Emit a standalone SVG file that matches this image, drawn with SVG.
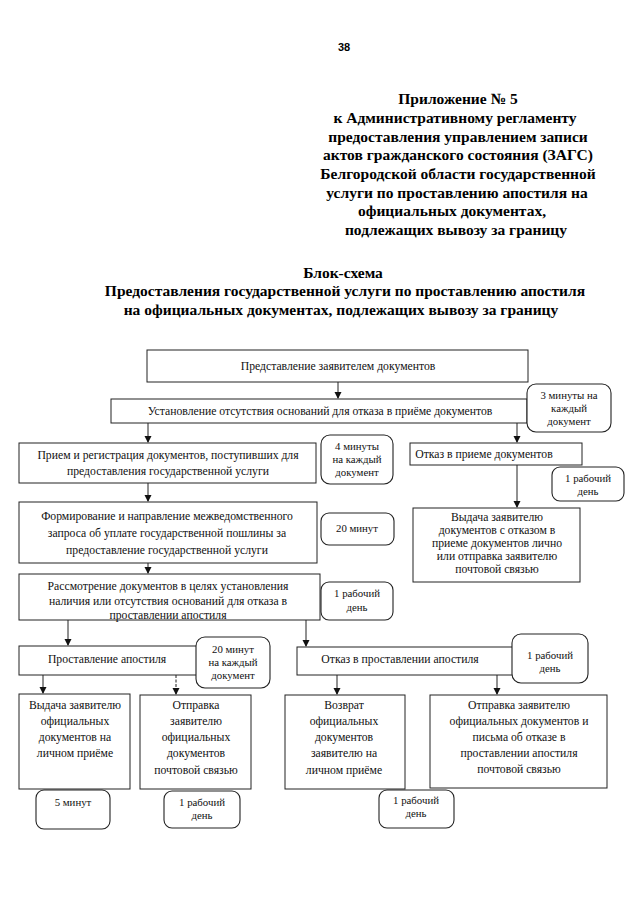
<svg xmlns="http://www.w3.org/2000/svg" width="640" height="905" viewBox="0 0 640 905">
<defs>
<style>
.hd{font-family:"Liberation Serif","Times New Roman",serif;font-weight:bold;font-size:15.5px;fill:#000;text-anchor:middle}
.t{font-family:"Liberation Serif","Times New Roman",serif;font-size:11.7px;fill:#111;text-anchor:middle}
.s{font-family:"Liberation Serif","Times New Roman",serif;font-size:10.8px;fill:#111;text-anchor:middle}
.box{fill:#fff;stroke:#222;stroke-width:1}
.rb{fill:#fff;stroke:#222;stroke-width:1.1}
.ln{stroke:#222;stroke-width:1;fill:none}
</style>
<marker id="ah" markerWidth="8" markerHeight="8" refX="6" refY="3.5" orient="auto" markerUnits="userSpaceOnUse">
<path d="M0,0 L7,3.5 L0,7 Z" fill="#111"/>
</marker>
</defs>
<rect width="640" height="905" fill="#fff"/>

<text x="344" y="51" style="font-family:'Liberation Sans',Arial,sans-serif;font-size:11px;font-weight:bold;text-anchor:middle">38</text>

<g id="header">
<text class="hd" x="458" y="104">Приложение № 5</text>
<text class="hd" x="455" y="123">к Административному регламенту</text>
<text class="hd" x="458" y="142">предоставления управлением записи</text>
<text class="hd" x="458" y="160">актов гражданского состояния (ЗАГС)</text>
<text class="hd" x="458" y="179">Белгородской области государственной</text>
<text class="hd" x="457" y="198">услуги по проставлению апостиля  на</text>
<text class="hd" x="452" y="216">официальных документах,</text>
<text class="hd" x="456" y="235">подлежащих вывозу за границу</text>
</g>

<g id="title">
<text class="hd" x="343" y="278">Блок-схема</text>
<text class="hd" x="345" y="296">Предоставления государственной услуги по проставлению апостиля</text>
<text class="hd" x="341" y="315">на официальных документах, подлежащих вывозу за границу</text>
</g>

<g id="connectors">
<line class="ln" x1="338" y1="382" x2="338" y2="398" marker-end="url(#ah)"/>
<line class="ln" x1="148" y1="423" x2="148" y2="442" marker-end="url(#ah)"/>
<line class="ln" x1="517" y1="423" x2="517" y2="442" marker-end="url(#ah)"/>
<line class="ln" x1="148" y1="483" x2="148" y2="501" marker-end="url(#ah)"/>
<line class="ln" x1="517" y1="465" x2="517" y2="507" marker-end="url(#ah)"/>
<line class="ln" x1="148" y1="563" x2="148" y2="573" marker-end="url(#ah)"/>
<line class="ln" x1="68" y1="620" x2="68" y2="645" marker-end="url(#ah)"/>
<line class="ln" x1="306" y1="620" x2="306" y2="646" marker-end="url(#ah)"/>
<line class="ln" x1="43" y1="675" x2="43" y2="693" marker-end="url(#ah)"/>
<line class="ln" x1="176" y1="675" x2="176" y2="694" stroke-dasharray="3,1.5" marker-end="url(#ah)"/>
<line class="ln" x1="337" y1="675" x2="337" y2="694" marker-end="url(#ah)"/>
<line class="ln" x1="497" y1="675" x2="497" y2="694" marker-end="url(#ah)"/>
</g>

<g id="n1">
<rect class="box" x="147" y="350" width="381" height="32"/>
<text class="t" x="338" y="370">Представление заявителем документов</text>
</g>

<g id="n2">
<rect class="box" x="111" y="399" width="416" height="24"/>
<text class="t" x="320" y="415">Установление отсутствия оснований для отказа  в приёме документов</text>
</g>

<g id="t1">
<rect class="rb" x="527" y="384" width="84" height="48" rx="9"/>
<text class="s" x="569" y="399">3 минуты на</text>
<text class="s" x="569" y="412">каждый</text>
<text class="s" x="569" y="425">документ</text>
</g>

<g id="n3">
<rect class="box" x="19" y="443" width="297" height="40"/>
<text class="t" x="168" y="459">Прием и регистрация документов, поступивших для</text>
<text class="t" x="168" y="475">предоставления государственной услуги</text>
</g>

<g id="t2">
<rect class="rb" x="321" y="435" width="72" height="49" rx="9"/>
<text class="s" x="357" y="450">4 минуты</text>
<text class="s" x="357" y="463">на каждый</text>
<text class="s" x="357" y="476">документ</text>
</g>

<g id="n4">
<rect class="box" x="410" y="443" width="172" height="22"/>
<text class="t" x="484" y="458">Отказ в приеме  документов</text>
</g>

<g id="t3">
<rect class="rb" x="552" y="467" width="72" height="34" rx="8"/>
<text class="s" x="588" y="482">1 рабочий</text>
<text class="s" x="588" y="495">день</text>
</g>

<g id="n5">
<rect class="box" x="413" y="508" width="167" height="74"/>
<text class="t" x="497" y="521">Выдача заявителю</text>
<text class="t" x="497" y="534">документов с отказом в</text>
<text class="t" x="497" y="547">приеме документов лично</text>
<text class="t" x="497" y="560">или отправка заявителю</text>
<text class="t" x="497" y="573">почтовой связью</text>
</g>

<g id="n6">
<rect class="box" x="19" y="502" width="298" height="61"/>
<text class="t" x="167" y="520">Формирование и направление межведомственного</text>
<text class="t" x="167" y="537">запроса об уплате государственной пошлины за</text>
<text class="t" x="167" y="554">предоставление государственной услуги</text>
</g>

<g id="t4">
<rect class="rb" x="321" y="513" width="73" height="32" rx="8"/>
<text class="s" x="357" y="532">20 минут</text>
</g>

<g id="n7">
<rect class="box" x="19" y="574" width="301" height="46"/>
<text class="t" x="168" y="590">Рассмотрение документов в целях установления</text>
<text class="t" x="168" y="605">наличия или  отсутствия оснований для отказа в</text>
<text class="t" x="168" y="619">проставлении апостиля</text>
</g>

<g id="t5">
<rect class="rb" x="321" y="582" width="72" height="38" rx="8"/>
<text class="s" x="357" y="597">1 рабочий</text>
<text class="s" x="357" y="611">день</text>
</g>

<g id="n8">
<rect class="box" x="19" y="646" width="181" height="29"/>
<text class="t" x="107" y="663">Проставление апостиля</text>
</g>

<g id="t6">
<rect class="rb" x="196" y="637" width="74" height="51" rx="9"/>
<text class="s" x="233" y="653">20 минут</text>
<text class="s" x="233" y="666">на каждый</text>
<text class="s" x="233" y="679">документ</text>
</g>

<g id="n9">
<rect class="box" x="297" y="647" width="217" height="28"/>
<text class="t" x="400" y="663">Отказ в проставлении апостиля</text>
</g>

<g id="t7">
<rect class="rb" x="512" y="634" width="76" height="49" rx="9"/>
<text class="s" x="550" y="659">1 рабочий</text>
<text class="s" x="550" y="672">день</text>
</g>

<g id="n10">
<rect class="box" x="19" y="694" width="111" height="95"/>
<text class="t" x="75" y="709">Выдача заявителю</text>
<text class="t" x="75" y="725">официальных</text>
<text class="t" x="75" y="741">документов на</text>
<text class="t" x="75" y="757">личном приёме</text>
</g>

<g id="n11">
<rect class="box" x="140" y="695" width="111" height="94"/>
<text class="t" x="196" y="709">Отправка</text>
<text class="t" x="196" y="725">заявителю</text>
<text class="t" x="196" y="741">официальных</text>
<text class="t" x="196" y="757">документов</text>
<text class="t" x="196" y="774">почтовой связью</text>
</g>

<g id="n12">
<rect class="box" x="285" y="695" width="120" height="94"/>
<text class="t" x="344" y="709">Возврат</text>
<text class="t" x="344" y="725">официальных</text>
<text class="t" x="344" y="741">документов</text>
<text class="t" x="344" y="757">заявителю на</text>
<text class="t" x="344" y="774">личном приёме</text>
</g>

<g id="n13">
<rect class="box" x="430" y="695" width="177" height="93"/>
<text class="t" x="519" y="709">Отправка заявителю</text>
<text class="t" x="519" y="725">официальных документов и</text>
<text class="t" x="519" y="741">письма об отказе в</text>
<text class="t" x="519" y="757">проставлении апостиля</text>
<text class="t" x="519" y="773">почтовой связью</text>
</g>

<g id="t8">
<rect class="rb" x="36" y="790" width="74" height="39" rx="8"/>
<text class="s" x="73" y="806">5 минут</text>
</g>

<g id="t9">
<rect class="rb" x="164" y="791" width="76" height="37" rx="8"/>
<text class="s" x="202" y="806">1 рабочий</text>
<text class="s" x="202" y="819">день</text>
</g>

<g id="t10">
<rect class="rb" x="379" y="790" width="75" height="38" rx="8"/>
<text class="s" x="416" y="804">1 рабочий</text>
<text class="s" x="416" y="817">день</text>
</g>
</svg>
